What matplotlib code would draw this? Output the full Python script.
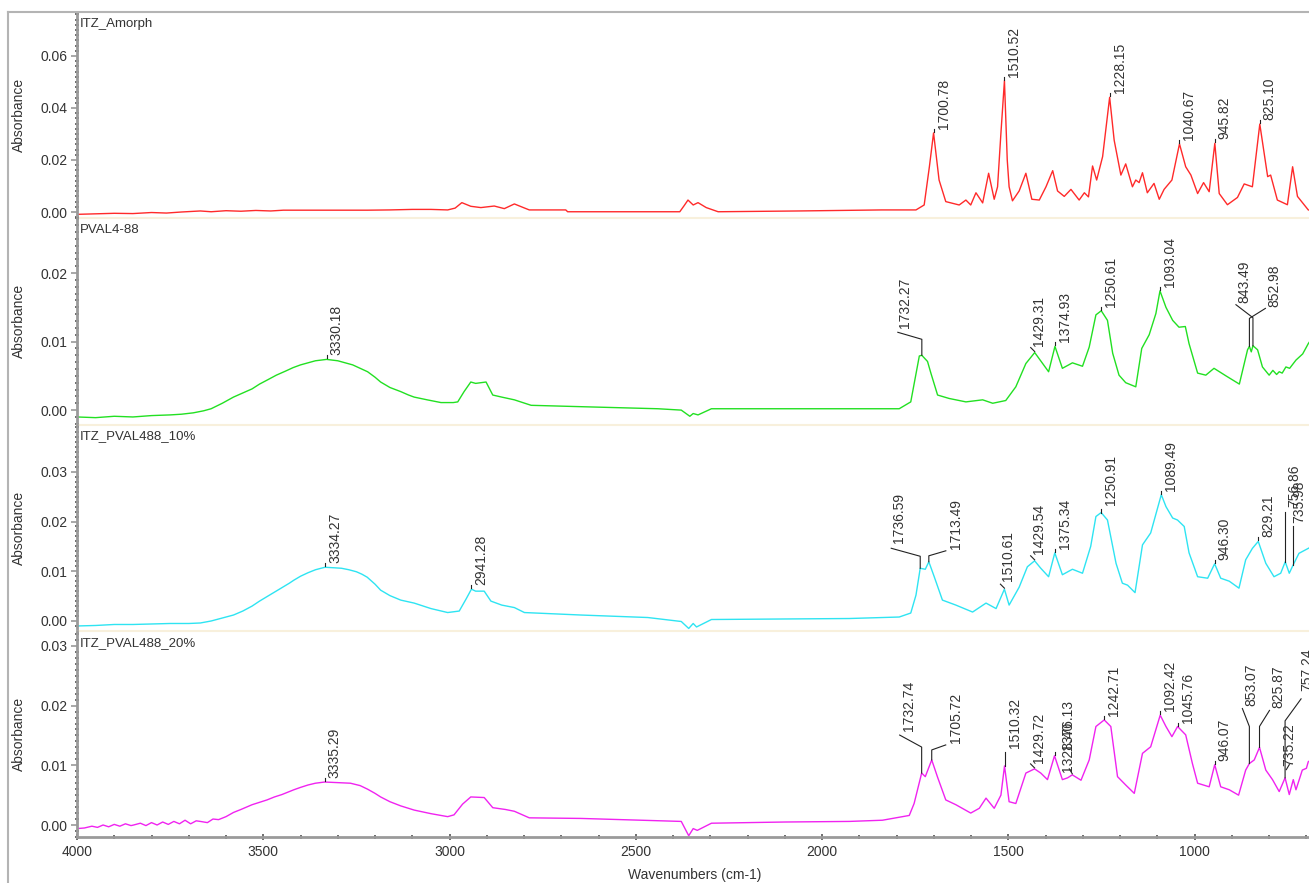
import numpy as np
import matplotlib
matplotlib.use('Agg')
import matplotlib.pyplot as plt
from matplotlib.ticker import MultipleLocator, FormatStrFormatter
from matplotlib.lines import Line2D

plt.rcParams['font.family'] = ['Liberation Sans', 'DejaVu Sans']

names = ['ITZ_Amorph', 'PVAL4-88', 'ITZ_PVAL488_10%', 'ITZ_PVAL488_20%']
colors = ['#ff2a2a', '#22e022', '#2ee4f2', '#f023f0']

# spectra (wavenumber, absorbance)
amorph_wn = [4000, 3950, 3900, 3850, 3800, 3760, 3720, 3669, 3640, 3600, 3560, 3520, 3480, 3446,
             3400, 3300, 3220, 3160, 3100, 3050, 3005, 2985, 2967, 2943, 2916, 2880, 2853, 2826,
             2800, 2786, 2688, 2683, 2382, 2370, 2360, 2346, 2333, 2311, 2279, 2064, 1840, 1748,
             1726, 1712, 1700.78, 1686, 1668, 1632, 1614, 1601, 1587, 1569, 1553, 1538, 1529, 1520,
             1510.52, 1503, 1498, 1489, 1471, 1453, 1437, 1417, 1399, 1381, 1368, 1350, 1332, 1310,
             1296, 1285, 1274, 1263, 1247, 1228.15, 1216, 1198, 1185, 1167, 1158, 1149, 1140, 1127,
             1109, 1095, 1082, 1061, 1040.67, 1024, 1010, 992, 976, 961, 945.82, 934, 912, 885, 867,
             845, 825.10, 804, 796, 778, 751, 737, 724, 695, 685]
amorph_abs = [-0.0009, -0.0007, -0.0005, -0.0006, -0.0002, -0.0004, 0.0, 0.0004, 0.0001, 0.0005,
              0.0003, 0.0006, 0.0004, 0.0007, 0.0007, 0.0007, 0.0007, 0.0008, 0.001, 0.001, 0.0008,
              0.0015, 0.0036, 0.0022, 0.0017, 0.0023, 0.0013, 0.0031, 0.0016, 0.0008, 0.0008, 0.0001,
              0.0001, 0.0025, 0.0046, 0.0027, 0.0036, 0.0017, 0.0001, 0.0004, 0.0008, 0.0008,
              0.0027, 0.0174, 0.0304, 0.0123, 0.004, 0.0027, 0.0046, 0.0027, 0.0074, 0.0035, 0.0149,
              0.0049, 0.0097, 0.0303, 0.0505, 0.02, 0.0097, 0.0043, 0.0081, 0.0149, 0.0049, 0.0046,
              0.0097, 0.0159, 0.0081, 0.006, 0.0087, 0.0046, 0.0074, 0.0058, 0.0177, 0.0123, 0.0213,
              0.0441, 0.0276, 0.0142, 0.0185, 0.0097, 0.0123, 0.0113, 0.0151, 0.0074, 0.011, 0.0049,
              0.0087, 0.0123, 0.0262, 0.0174, 0.0142, 0.0071, 0.0113, 0.0078, 0.0264, 0.0071, 0.0028,
              0.0056, 0.0108, 0.0097, 0.0338, 0.0136, 0.0142, 0.0046, 0.0028, 0.0174, 0.006, 0.0008,
              0.0005]

pval_wn = [4000, 3950, 3900, 3850, 3800, 3750, 3720, 3688, 3660, 3640, 3610, 3580, 3555, 3530,
           3510, 3489, 3465, 3440, 3420, 3400, 3380, 3360, 3345, 3330.18, 3315, 3300, 3280, 3260,
           3240, 3220, 3200, 3185, 3160, 3131, 3110, 3095, 3060, 3023, 2990, 2978, 2961, 2943,
           2930, 2916, 2902, 2884, 2860, 2826, 2781, 2647, 2441, 2378, 2355, 2346, 2333, 2297,
           1927, 1793, 1762, 1739, 1732.27, 1717, 1708, 1690, 1659, 1614, 1569, 1542, 1507, 1480,
           1453, 1429.31, 1408, 1392, 1374.93, 1355, 1328, 1301, 1283, 1265, 1250.61, 1234, 1220,
           1203, 1185, 1158, 1142, 1122, 1104, 1093.04, 1077, 1059, 1042, 1025, 1015, 992, 970,
           948, 916, 880, 858, 852.98, 848, 843.49, 831, 818, 800, 790, 780, 773, 765, 755, 745,
           728, 710, 695, 685]
pval_abs = [-0.001, -0.0011, -0.0009, -0.001, -0.0008, -0.0007, -0.0006, -0.0004, -0.0001, 0.0002,
            0.001, 0.0019, 0.0025, 0.0031, 0.0038, 0.0044, 0.0051, 0.0057, 0.0062, 0.0066, 0.0069,
            0.0072, 0.0073, 0.0074, 0.0073, 0.0072, 0.0069, 0.0066, 0.0061, 0.0056, 0.0048, 0.0041,
            0.0033, 0.0027, 0.0022, 0.0019, 0.0015, 0.0011, 0.0011, 0.0012, 0.0027, 0.0041, 0.0039,
            0.004, 0.0041, 0.0022, 0.0019, 0.0015, 0.0007, 0.0005, 0.0002, 0.0, -0.0009, -0.0005,
            -0.0007, 0.0002, 0.0002, 0.0002, 0.0012, 0.0079, 0.008, 0.0071, 0.0054, 0.0022, 0.0017,
            0.0012, 0.0015, 0.001, 0.0014, 0.0034, 0.0068, 0.0084, 0.0068, 0.0056, 0.0093, 0.0061,
            0.0069, 0.0064, 0.0092, 0.0139, 0.0145, 0.0131, 0.0083, 0.0051, 0.004, 0.0034, 0.009,
            0.011, 0.0141, 0.0174, 0.015, 0.0131, 0.0121, 0.0122, 0.0097, 0.0054, 0.0051, 0.0061,
            0.005, 0.0038, 0.0088, 0.0093, 0.0085, 0.0094, 0.0088, 0.0063, 0.0051, 0.0058, 0.0052,
            0.0056, 0.0054, 0.0063, 0.0061, 0.0073, 0.0082, 0.0097, 0.0105]

p10_wn = [4000, 3950, 3900, 3850, 3800, 3750, 3700, 3669, 3640, 3610, 3580, 3555, 3530, 3510,
          3490, 3470, 3450, 3430, 3418, 3400, 3380, 3360, 3345, 3334.27, 3310, 3290, 3270, 3250,
          3235, 3221, 3200, 3185, 3160, 3131, 3095, 3050, 3005, 2974, 2955, 2941.28, 2930, 2907,
          2889, 2860, 2826, 2799, 2647, 2468, 2378, 2358, 2346, 2337, 2297, 1927, 1793, 1762,
          1748, 1736.59, 1723, 1713.49, 1699, 1677, 1641, 1596, 1560, 1533, 1510.61, 1498, 1471,
          1449, 1429.54, 1413, 1392, 1375.34, 1355, 1328, 1301, 1279, 1265, 1250.91, 1234, 1211,
          1194, 1180, 1160, 1140, 1118, 1089.49, 1077, 1059, 1046, 1028, 1015, 992, 965, 946.30,
          930, 907, 881, 863, 845, 829.21, 809, 787, 769, 756.86, 746, 735.98, 720, 695, 685]
p10_abs = [-0.001, -0.0009, -0.0007, -0.0007, -0.0006, -0.0005, -0.0005, -0.0004, 0.0, 0.0006,
           0.0012, 0.002, 0.003, 0.004, 0.0049, 0.0058, 0.0067, 0.0076, 0.0082, 0.009, 0.0097,
           0.0103, 0.0106, 0.0108, 0.0107, 0.0106, 0.0103, 0.0099, 0.0094, 0.0088, 0.0074, 0.0062,
           0.0051, 0.0042, 0.0036, 0.0025, 0.0017, 0.002, 0.0045, 0.0064, 0.006, 0.006, 0.004,
           0.0032, 0.0027, 0.0017, 0.0012, 0.0007, -0.0001, -0.0015, -0.0005, -0.0012, 0.0003,
           0.0005, 0.0008, 0.0016, 0.0052, 0.0106, 0.0104, 0.0119, 0.0089, 0.0042, 0.0032, 0.0018,
           0.0036, 0.0025, 0.0064, 0.0032, 0.0068, 0.0109, 0.0121, 0.0106, 0.0089, 0.0137, 0.0093,
           0.0104, 0.0096, 0.015, 0.021, 0.0218, 0.0203, 0.0116, 0.0076, 0.0072, 0.0057, 0.0153,
           0.0177, 0.0254, 0.023, 0.0207, 0.0203, 0.019, 0.0137, 0.0089, 0.0086, 0.0115, 0.0086,
           0.008, 0.0066, 0.0123, 0.0146, 0.016, 0.0116, 0.0089, 0.0096, 0.0119, 0.0096, 0.0112,
           0.0136, 0.0146, 0.015]

p20_wn = [4000, 3980, 3960, 3945, 3930, 3915, 3900, 3885, 3870, 3855, 3848, 3830, 3815, 3800,
          3785, 3770, 3755, 3740, 3725, 3710, 3695, 3680, 3669, 3650, 3635, 3620, 3600, 3580, 3560,
          3530, 3510, 3490, 3470, 3450, 3430, 3418, 3400, 3380, 3360, 3335.29, 3300, 3266, 3240,
          3220, 3200, 3185, 3160, 3131, 3095, 3050, 3005, 2988, 2965, 2943, 2907, 2884, 2850, 2826,
          2786, 2647, 2378, 2358, 2346, 2335, 2297, 2100, 1927, 1838, 1766, 1753, 1732.74, 1723,
          1705.72, 1690, 1668, 1641, 1601, 1578, 1560, 1538, 1520, 1510.32, 1498, 1480, 1453,
          1429.72, 1413, 1395, 1376.13, 1355, 1341, 1328.40, 1305, 1283, 1265, 1242.71, 1225, 1207,
          1185, 1162, 1140, 1118, 1092.42, 1077, 1061, 1045.76, 1024, 1006, 992, 961, 946.07, 930,
          907, 882, 863, 853.07, 840, 825.87, 809, 791, 773, 757.24, 746, 735.22, 728, 711, 700,
          695, 685]
p20_abs = [-0.0006, -0.0005, -0.0002, -0.0004, 0.0, -0.0003, 0.0001, -0.0002, 0.0002, -0.0001,
           0.0, 0.0003, -0.0001, 0.0004, 0.0, 0.0005, 0.0001, 0.0006, 0.0002, 0.0008, 0.0002, 0.0007,
           0.0006, 0.0004, 0.001, 0.0009, 0.0014, 0.0021, 0.0026, 0.0034, 0.0038, 0.0042, 0.0047,
           0.0051, 0.0056, 0.0059, 0.0063, 0.0067, 0.007, 0.0072, 0.0071, 0.007, 0.0066, 0.006,
           0.0053, 0.0047, 0.0039, 0.0032, 0.0025, 0.0019, 0.0014, 0.0017, 0.0035, 0.0047, 0.0046,
           0.0029, 0.0026, 0.0023, 0.0012, 0.0011, 0.0006, -0.0018, -0.0006, -0.0009, 0.0003,
           0.0005, 0.0006, 0.0008, 0.0016, 0.0036, 0.0087, 0.0081, 0.0109, 0.008, 0.0042, 0.0034,
           0.002, 0.0028, 0.0045, 0.0028, 0.005, 0.0099, 0.0039, 0.0036, 0.0087, 0.0094, 0.0087,
           0.0076, 0.0116, 0.0076, 0.0079, 0.0084, 0.0075, 0.0109, 0.0165, 0.0176, 0.0165, 0.0081,
           0.0067, 0.0053, 0.012, 0.0131, 0.0184, 0.0165, 0.0148, 0.0165, 0.0151, 0.0103, 0.007,
           0.0064, 0.0101, 0.0064, 0.0059, 0.005, 0.0092, 0.0103, 0.0109, 0.013, 0.0092, 0.0076,
           0.0056, 0.0079, 0.0051, 0.0076, 0.0059, 0.0092, 0.0095, 0.0106, 0.011]

# labelled peaks
amorph_peaks = [1700.78, 1510.52, 1228.15, 1040.67, 945.82, 825.10]
pval_peaks = [3330.18, 1732.27, 1429.31, 1374.93, 1250.61, 1093.04, 852.98, 843.49]
p10_peaks = [3334.27, 2941.28, 1736.59, 1713.49, 1510.61, 1429.54, 1375.34, 1250.91, 1089.49,
             946.30, 829.21, 756.86, 735.98]
p20_peaks = [3335.29, 1732.74, 1705.72, 1510.32, 1429.72, 1376.13, 1328.40, 1242.71, 1092.42,
             1045.76, 946.07, 853.07, 825.87, 757.24, 735.22]

# label layout in pixels: text offset (dx, dy) and leader line vertices
tick_mark = [(0, 1), (0, 4)]
slash = [(-4, 5), (0, 1)]
label_layout = {
    1732.27: (-17, 27, [(0, 0), (0, 16), (-24, 23)]),
    1429.31: (4, 7, slash),
    852.98: (25, 39, [(0, 0), (0, 28), (16, 38)]),
    843.49: (-9, 43, [(0, 0), (0, 28), (-17, 41)]),
    1736.59: (-21, 25, [(0, 0), (0, 12), (-29, 20)]),
    1713.49: (27, 13, [(0, 0), (0, 6), (17, 11)]),
    1510.61: (4, 8, slash),
    1429.54: (4, 7, slash),
    1250.91: (10, 8, [(0, 0), (0, 4)]),
    756.86: (9, 55, [(0, 0), (0, 50)]),
    735.98: (6, 42, [(0, 0), (0, 39)]),
    1732.74: (-13, 42, [(0, 0), (0, 26), (-22, 38)]),
    1705.72: (24, 17, [(0, 0), (0, 10), (14, 15)]),
    1510.32: (10, 18, [(0, 0), (0, 14)]),
    1429.72: (4, 6, slash),
    1376.13: (13, 6, tick_mark),
    1328.40: (-4, 3, [(-3, 6), (0, 1)]),
    853.07: (2, 58, [(0, 0), (0, 37), (-7, 55)]),
    825.87: (19, 39, [(0, 0), (0, 21), (10, 37)]),
    757.24: (22, 87, [(0, 0), (0, 57), (16, 79)]),
    735.22: (-4, 14, [(-7, 10), (-4, 15)]),
}

series = [(amorph_wn, amorph_abs, amorph_peaks),
          (pval_wn, pval_abs, pval_peaks),
          (p10_wn, p10_abs, p10_peaks),
          (p20_wn, p20_abs, p20_peaks)]
ylims = [(-0.0024, 0.0769), (-0.0021, 0.028), (-0.00196, 0.0395), (-0.00201, 0.03254)]
ymajor = [0.02, 0.01, 0.01, 0.01]
yminor = [0.002, 0.001, 0.001, 0.001]

axis_grey = '#9a9a9a'
text_col = '#333333'

fig = plt.figure(figsize=(13.09, 8.83), dpi=100)
left = 77 / 1309
bottom = 1 - 837 / 883
ph = (837 - 12) / 4 / 883

axes = []
for i in range(4):
    ax = fig.add_axes([left, bottom + (3 - i) * ph, 1 - left + 0.002, ph])
    axes.append(ax)

for i, ax in enumerate(axes):
    wn, ab, peaks = series[i]
    wn = np.array(wn)
    ab = np.array(ab)
    ax.plot(wn, ab, color=colors[i], lw=1.0)
    ax.set_xlim(4000, 686)
    ax.set_ylim(*ylims[i])
    ax.yaxis.set_major_locator(MultipleLocator(ymajor[i]))
    ax.yaxis.set_minor_locator(MultipleLocator(yminor[i]))
    ax.yaxis.set_major_formatter(FormatStrFormatter('%.2f'))
    ax.xaxis.set_major_locator(MultipleLocator(500))
    ax.xaxis.set_minor_locator(MultipleLocator(100))
    for s in ['top', 'right']:
        ax.spines[s].set_visible(False)
    ax.spines['left'].set_color(axis_grey)
    ax.spines['left'].set_linewidth(2)
    ax.tick_params(axis='y', which='major', length=4, width=1.2, color=axis_grey,
                   labelsize=10, labelcolor=text_col, pad=3)
    ax.tick_params(axis='y', which='minor', direction='inout', length=3, width=1.2, color='#555555')
    ax.set_ylabel('Absorbance', fontsize=10, color=text_col, labelpad=10)
    if i < 3:
        ax.spines['bottom'].set_color('#f8f0dc')
        ax.spines['bottom'].set_linewidth(1.5)
        ax.tick_params(axis='x', which='both', bottom=False, labelbottom=False)
    else:
        ax.spines['bottom'].set_color(axis_grey)
        ax.spines['bottom'].set_linewidth(2)
        ax.tick_params(axis='x', which='major', direction='inout', length=4, width=1.2,
                       color='#555555', labelsize=10, labelcolor=text_col, pad=4)
        ax.tick_params(axis='x', which='minor', direction='inout', length=3, width=1.2,
                       color='#555555')
        ax.set_xlabel('Wavenumbers (cm-1)', fontsize=10, color=text_col, labelpad=6)
    ax.patch.set_alpha(0)

    ax.annotate(names[i], xy=(0, 1), xycoords='axes fraction', xytext=(3, -12),
                textcoords='offset pixels', ha='left', va='center', fontsize=9.5,
                color=text_col)

    # peak labels
    for p in peaks:
        k = np.argmin(np.abs(wn - p))
        v = ab[k]
        dx, dy, leader = label_layout.get(p, (10, 4, tick_mark))
        x0, y0 = ax.transData.transform((p, v))
        pts = [ax.transData.inverted().transform((x0 + a, y0 + b)) for a, b in leader]
        ax.plot([q[0] for q in pts], [q[1] for q in pts], color='#222222', lw=0.8,
                clip_on=False)
        ax.annotate('%.2f' % p, xy=(p, v), xytext=(dx, dy), textcoords='offset pixels',
                    rotation=90, ha='center', va='bottom', fontsize=10, color=text_col,
                    annotation_clip=False)

# outer grey frame
fig.add_artist(Line2D([8 / 1309, 8 / 1309], [0, 1 - 12 / 883], color='#b4b4b4', lw=1.5))
fig.add_artist(Line2D([8 / 1309, 1], [1 - 12 / 883, 1 - 12 / 883], color='#b4b4b4', lw=1.5))

fig.savefig('out.png', dpi=100)
